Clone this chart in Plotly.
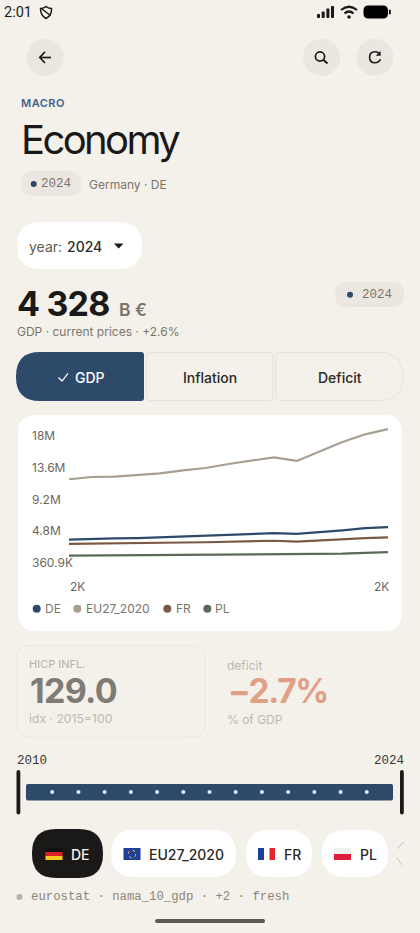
import plotly.graph_objects as go

W, H = 420, 933

years = list(range(2010, 2025))
de_gdp = [2600000, 2720000, 2770000, 2820000, 2930000, 3030000, 3130000, 3270000, 3380000, 3490000, 3410000, 3620000, 3900000, 4200000, 4330000]
eu_gdp = [11000000, 11320000, 11360000, 11550000, 11830000, 12250000, 12570000, 13130000, 13590000, 14060000, 13550000, 14840000, 16190000, 17260000, 18000000]
fr_gdp = [2000000, 2060000, 2090000, 2120000, 2150000, 2200000, 2230000, 2300000, 2360000, 2440000, 2320000, 2500000, 2650000, 2820000, 2920000]
pl_gdp = [360900, 380000, 390000, 400000, 410000, 430000, 430000, 470000, 500000, 530000, 530000, 580000, 650000, 750000, 850000]

series_names = ["DE", "EU27_2020", "FR", "PL"]
series_colors = ["#2e4a6b", "#a89e92", "#7a5a44", "#5c6b58"]

y_ticks = [360900, 4770000, 9180000, 13590000, 18000000]
y_labels = ["360.9K", "4.8M", "9.2M", "13.6M", "18M"]
y_range = [-1630000, 19253000]

brush_years = list(range(2011, 2024))

BG = "#f4f1ea"
CHIP = "#ebe7e0"
NAVY = "#2e4a6b"
INK = "#1a1917"
GREY = "#7a756c"
TICK = "#6b665c"
SANS = "Inter"
MONO = "Liberation Mono"


def fx(x):
    return x / W


def fy(y):
    return 1 - y / H


# path written in page pixels, only M L Q C Z
def pth(s):
    out = []
    is_x = True
    for tok in s.split():
        if tok.isalpha():
            out.append(tok)
        else:
            out.append(str(round(fx(float(tok)) if is_x else fy(float(tok)), 5)))
            is_x = not is_x
    return " ".join(out)


shapes = []
notes = []


def path(s, fill=None, line=None, lw=0, dash=None):
    shapes.append(dict(type="path", path=pth(s), xref="paper", yref="paper", layer="below",
                       fillcolor=fill if fill else "rgba(0,0,0,0)",
                       line=dict(color=line if line else "rgba(0,0,0,0)", width=lw, dash=dash)))


def rrect(x0, y0, x1, y1, r, fill=None, line=None, lw=0):
    if not isinstance(r, (list, tuple)):
        r = [r, r, r, r]
    tl, tr, br, bl = r
    s = (f"M {x0 + tl} {y0} L {x1 - tr} {y0} Q {x1} {y0} {x1} {y0 + tr} L {x1} {y1 - br} "
         f"Q {x1} {y1} {x1 - br} {y1} L {x0 + bl} {y1} Q {x0} {y1} {x0} {y1 - bl} "
         f"L {x0} {y0 + tl} Q {x0} {y0} {x0 + tl} {y0} Z")
    path(s, fill, line, lw)


def dot(cx, cy, r, fill=None, line=None, lw=0, dash=None):
    shapes.append(dict(type="circle", xref="paper", yref="paper", layer="below",
                       x0=fx(cx - r), x1=fx(cx + r), y0=fy(cy + r), y1=fy(cy - r),
                       fillcolor=fill if fill else "rgba(0,0,0,0)",
                       line=dict(color=line if line else "rgba(0,0,0,0)", width=lw, dash=dash)))


def text(x, y, s, size, color, weight=400, family=SANS, anchor="left"):
    # annotation boxes sit about 1.5px inside the anchor
    if anchor == "left":
        x -= 1.5
    elif anchor == "right":
        x += 1.5
    notes.append(dict(x=fx(x), y=fy(y), xref="paper", yref="paper", text=s, showarrow=False,
                      xanchor=anchor, yanchor="middle", borderpad=0,
                      font=dict(size=size, color=color, family=family, weight=weight)))


# status bar
text(4, 12.5, "2:01", 14.5, INK, 400, "Roboto")
path("M 46 6.5 Q 49 8.5 51.5 8.5 Q 52 15.5 46 18.5 Q 40.5 15.5 40.5 8.5 Q 43 8.5 46 6.5 Z", None, INK, 1.5)
path("M 42 9 L 50.5 15.5", None, INK, 1.5)
for bx, top in zip([317, 321.7, 326.4, 331], [14, 11.5, 8.5, 6]):
    rrect(bx, top, bx + 3, 18, 0.8, INK)
path("M 341 10 Q 349 3.5 357 10", None, INK, 2.2)
path("M 344.5 13.5 Q 349 9.5 353.5 13.5", None, INK, 2.2)
dot(349, 17, 1.8, INK)
rrect(363.5, 5.5, 388, 18.5, 5, "#000000")
rrect(389, 9.5, 390.7, 14.5, 0.8, "#000000")

# top buttons
dot(45.3, 57.3, 18.5, CHIP)
dot(321.7, 57.3, 18.5, CHIP)
dot(375, 57.3, 18.5, CHIP)
path("M 39.8 57.5 L 51 57.5", None, INK, 1.7)
path("M 45 51.8 L 39.8 57.5 L 45 63", None, INK, 1.7)
dot(320, 56.5, 4.6, None, INK, 1.7)
path("M 323.5 60 L 327.5 63.5", None, INK, 2)
path("M 379.5 53.7 Q 377.5 51.8 375 51.8 Q 369.6 51.8 369.6 57.3 Q 369.6 62.8 375 62.8 Q 379 62.8 380.4 59.3", None, INK, 1.6)
path("M 380.6 51 L 380.6 55.8 L 375.8 55.8 Z", INK)

# header
text(21, 103, "MACRO", 11, "#43608a", 600)
text(21, 139.5, "Economy", 40, INK, 400)
rrect(21, 171, 81, 196, 12.5, CHIP)
dot(33.7, 184, 3, NAVY)
text(41, 184, "2024", 12.5, GREY, 400, MONO)
text(89, 184, "Germany · DE", 12, GREY)

# year select
rrect(17, 222, 142, 269, 23.5, "#ffffff")
text(29, 246, "year:", 14, "#5f5b53")
text(67, 246, "2024", 14, "#2a2926", 500)
path("M 114 243.5 L 123.5 243.5 L 118.7 248.5 Z", INK)

# headline number
text(17, 303.5, "4 328", 34, INK, 700)
text(119.5, 309, "B €", 17.5, GREY, 600)
text(17, 332, "GDP · current prices · +2.6%", 12, GREY)
rrect(335, 282, 404, 307, 12.5, CHIP)
dot(350, 294.7, 3, NAVY)
text(362, 294.7, "2024", 12.5, GREY, 400, MONO)

# metric buttons
rrect(16, 352, 144, 401, [24, 3, 3, 24], NAVY)
path("M 58.5 377.5 L 62 381 L 68 373.5", None, "#ffffff", 1.2)
text(75, 377, "GDP", 14, "#ffffff", 500)
rrect(146.5, 352.5, 273, 400.5, 4, BG, "#e6e2da", 1)
text(209.7, 377, "Inflation", 14, "#2a2926", 500, anchor="center")
rrect(276, 352.5, 403, 400.5, [4, 24, 24, 4], BG, "#e6e2da", 1)
text(339.7, 377, "Deficit", 14, "#2a2926", 500, anchor="center")

# chart card
rrect(18, 415, 402, 631, 18, "#ffffff")
text(70, 586.7, "2K", 12, TICK)
text(388, 586.7, "2K", 12, TICK, anchor="right")
for name, color, dx, tx in zip(series_names, series_colors, [36.7, 77.3, 167.3, 207.3], [45.3, 86.3, 176, 215.7]):
    dot(dx, 608.7, 4, color)
    text(tx, 608.7, name, 12, GREY)

# secondary metrics, dimmed
rrect(17, 645.5, 205, 737, 13, None, "#ebe8e1", 1)
text(29, 664, "HICP INFL.", 11, "#b5b1a9")
text(30, 690.5, "129.0", 34, "#7f7c75", 700)
text(29, 718, "idx · 2015=100", 12.2, "#bdb9b1")
text(227, 665, "deficit", 12, "#bdb9b1")
text(228, 691, "−2.7%", 33.5, "#e0a088", 700)
text(227, 719, "% of GDP", 12, "#bdb9b1")

# range brush
text(17, 760.5, "2010", 12.5, "#3a3833", 400, MONO)
text(403.5, 760.5, "2024", 12.5, "#3a3833", 400, MONO, anchor="right")
rrect(26, 784, 393, 800.5, 2, NAVY)
rrect(16.5, 770, 20.3, 814.5, 1.9, INK)
rrect(400, 770, 403.8, 814.5, 1.9, INK)

# country chips
rrect(32, 829, 103, 878, 24, INK)
rrect(111, 830, 236, 877, 23.5, "#ffffff")
rrect(246, 830, 312, 877, 23.5, "#ffffff")
rrect(322, 830, 388, 877, 23.5, "#ffffff")
text(71, 854, "DE", 14, "#f4f1ea", 500)
text(149, 854, "EU27_2020", 14, "#2a2926", 500)
text(284, 854, "FR", 14, "#2a2926", 500)
text(360, 854, "PL", 14, "#2a2926", 500)
path("M 404 842.5 Q 397 846 397 854 Q 397 862 404 866", None, "#c9c6bf", 1, "dash")

for y0, y1, c in [(848, 852, "#111111"), (852, 856, "#dd1f26"), (856, 860, "#f8c81e")]:
    path(f"M 45.5 {y0} L 62.5 {y0} L 62.5 {y1} L 45.5 {y1} Z", c)
path("M 123.5 848 L 140.5 848 L 140.5 860 L 123.5 860 Z", "#1f3f98")
dot(132, 854, 3.8, None, "#e6c93a", 1, "dot")
for x0, x1, c in [(258, 264, "#1f3f98"), (264, 269.5, "#ffffff"), (269.5, 275, "#e3252f")]:
    path(f"M {x0} 848 L {x1} 848 L {x1} 860 L {x0} 860 Z", c)
path("M 334 848 L 351 848 L 351 854 L 334 854 Z", "#f1f1f1")
path("M 334 854 L 351 854 L 351 860 L 334 860 Z", "#dc1c3c")

# footer
dot(19.5, 897, 3, "#b5b1a9")
text(31, 897, "eurostat · nama_10_gdp · +2 · fresh", 12.3, "#8b867d", 400, MONO)
rrect(155, 919, 265, 923, 2, "#5c5a55")

fig = go.Figure()
for name, vals, color in zip(series_names, [de_gdp, eu_gdp, fr_gdp, pl_gdp], series_colors):
    fig.add_trace(go.Scatter(x=years, y=vals, mode="lines", name=name, cliponaxis=False,
                             line=dict(color=color, width=2.2)))

fig.add_trace(go.Scatter(x=brush_years, y=[0] * len(brush_years), mode="markers", xaxis="x2", yaxis="y3",
                         marker=dict(size=4, color="#e8e8f6"), showlegend=False))

fig.update_layout(
    width=W, height=H, margin=dict(l=0, r=0, t=0, b=0),
    paper_bgcolor=BG, plot_bgcolor="rgba(0,0,0,0)", showlegend=False,
    shapes=shapes, annotations=notes,
    xaxis=dict(domain=[fx(69), fx(388)], range=[2010, 2024], anchor="y", showgrid=False,
               zeroline=False, showticklabels=False, ticks=""),
    yaxis=dict(domain=[fy(570), fy(420)], range=y_range, anchor="free", position=fx(26),
               tickmode="array", tickvals=y_ticks, ticktext=y_labels, ticklabelposition="inside",
               ticklabelshift=7, ticklabelstandoff=2, ticks="", showgrid=False, zeroline=False, showline=False,
               tickfont=dict(family=SANS, size=12, color=TICK, weight=400)),
    xaxis2=dict(domain=[fx(26), fx(393)], range=[2010, 2024], anchor="y3", visible=False),
    yaxis3=dict(domain=[fy(800), fy(784)], range=[-1, 1], anchor="x2", visible=False),
)

# plotly fonts have no letter spacing, the tight headings get it here
post = """
document.body.style.margin='0';document.body.style.overflow='hidden';
var tight={'Economy':-2.6,'4 328':-0.8,'129.0':-0.7,'−2.7%':-1.4,'MACRO':0.5};
document.querySelectorAll('.annotation-text').forEach(function(el){
  var sp=tight[el.textContent];
  if(sp===undefined)return;
  var b=el.getBBox();
  el.setAttribute('x',b.x);
  el.style.textAnchor='start';
  el.style.letterSpacing=sp+'px';
});
"""
fig.write_html("out.html", config=dict(displayModeBar=False), post_script=post)
